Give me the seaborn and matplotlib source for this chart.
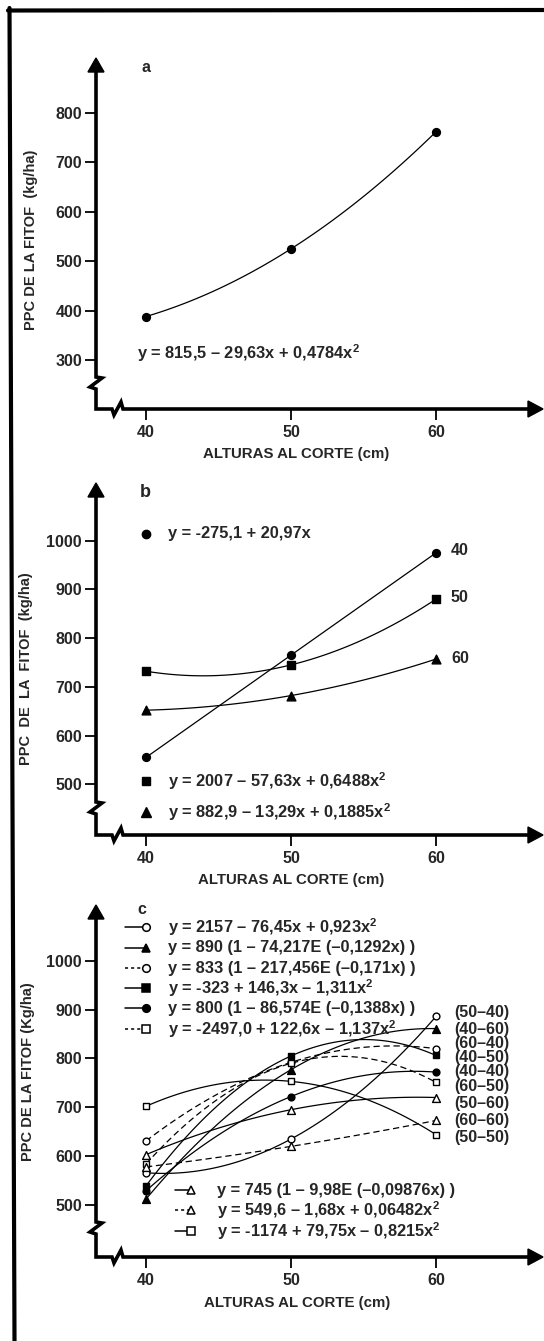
import matplotlib
matplotlib.use("Agg")
import matplotlib.pyplot as plt
from matplotlib.lines import Line2D
from matplotlib.patches import Polygon
import pandas as pd
import seaborn as sns

sns.set_style("white")
plt.rcParams["font.family"] = ["Liberation Sans", "DejaVu Sans"]
plt.rcParams["font.weight"] = "bold"
plt.rcParams["axes.labelweight"] = "bold"
plt.rcParams["font.size"] = 11
plt.rcParams["mathtext.fontset"] = "custom"
plt.rcParams["mathtext.bf"] = "Liberation Sans:bold"
plt.rcParams["mathtext.rm"] = "Liberation Sans:bold"

W, H = 544, 1341
SQ = r"$^\mathbf{2}$"

alturas = [40, 50, 60]

# --- a ---
ppc_a = [388, 525, 762]
ec_a = "y = 815,5 – 29,63x + 0,4784x" + SQ

# --- b --- (una curva por altura del primer corte)
cortes_b = ["40", "50", "60"]
ppc_b40 = [555, 765, 975]
ppc_b50 = [732, 745, 880]
ppc_b60 = [652, 682, 757]
orden_b = [1, 2, 2]
ec_b = ["y = -275,1 + 20,97x",
        "y = 2007 – 57,63x + 0,6488x" + SQ,
        "y = 882,9 – 13,29x + 0,1885x" + SQ]

# --- c --- (combinaciones de cortes)
series_c = ["(50–40)", "(40–60)", "(60–40)", "(40–50)", "(40–40)",
            "(60–50)", "(50–60)", "(60–60)", "(50–50)"]
ppc_c_50_40 = [566, 635, 886]
ppc_c_40_60 = [512, 777, 861]
ppc_c_60_40 = [631, 792, 820]
ppc_c_40_50 = [539, 805, 806]
ppc_c_40_40 = [529, 722, 772]
ppc_c_60_50 = [584, 790, 751]
ppc_c_50_60 = [603, 695, 720]
ppc_c_60_60 = [578, 620, 673]
ppc_c_50_50 = [702, 753, 644]
ec_c = ["y = 2157 – 76,45x + 0,923x" + SQ,
        "y = 890 (1 – 74,217E (–0,1292x) )",
        "y = 833 (1 – 217,456E (–0,171x) )",
        "y = -323 + 146,3x – 1,311x" + SQ,
        "y = 800 (1 – 86,574E (–0,1388x) )",
        "y = -2497,0 + 122,6x – 1,137x" + SQ,
        "y = 745 (1 – 9,98E (–0,09876x) )",
        "y = 549,6 – 1,68x + 0,06482x" + SQ,
        "y = -1174 + 79,75x – 0,8215x" + SQ]

df_c = pd.DataFrame({
    "altura": alturas * 9,
    "ppc": (ppc_c_50_40 + ppc_c_40_60 + ppc_c_60_40 + ppc_c_40_50 + ppc_c_40_40
            + ppc_c_60_50 + ppc_c_50_60 + ppc_c_60_60 + ppc_c_50_50),
    "serie": [s for s in series_c for _ in alturas],
})

fig = plt.figure(figsize=(W / 100, H / 100), dpi=100)

X0, XR = 96, 543          # eje vertical y punta de la flecha (px)
PX10 = 14.5               # px por cm


def fpx(x, y):
    return x / W, 1 - y / H


def linea(xs, ys, lw=2.6):
    fig.add_artist(Line2D([x / W for x in xs], [1 - y / H for y in ys],
                          color="black", lw=lw, solid_joinstyle="miter"))


def panel(top, bottom, tick_px, tick_val, s, ybrk):
    ax = fig.add_axes([X0 / W, 1 - bottom / H, (XR - X0) / W, (bottom - top) / H])
    ax.set_xlim(40 - (146 - X0) / PX10, 40 + (XR - 146) / PX10)
    ax.set_ylim(tick_val - (bottom - tick_px) / s, tick_val + (tick_px - top) / s)
    for sp in ax.spines.values():
        sp.set_visible(False)
    ax.set_xticks(alturas)
    ax.tick_params(axis="both", direction="out", length=8, width=1.3,
                   labelsize=11.5, color="black", left=True, bottom=True)
    ax.tick_params(axis="y", pad=2)
    ax.tick_params(axis="x", pad=3.5)
    # ejes con flechas y cortes
    linea([X0, X0, X0 + 6, X0 - 6, X0, X0, 112, 114, 121, 123, 530],
          [top + 12, ybrk - 6, ybrk - 5, ybrk + 4, ybrk + 6, bottom,
           bottom, bottom + 6, bottom - 7, bottom, bottom])
    fig.add_artist(Polygon([fpx(X0, top), fpx(X0 - 8, top + 14), fpx(X0 + 8, top + 14)],
                           closed=True, color="black"))
    fig.add_artist(Polygon([fpx(XR, bottom), fpx(XR - 15, bottom - 8), fpx(XR - 15, bottom + 8)],
                           closed=True, color="black"))
    return ax


def curva(ax, y, orden, dashed=False):
    sns.regplot(x=alturas, y=y, order=orden, ci=None, scatter=False, truncate=True,
                color="black", ax=ax,
                line_kws={"lw": 0.9, "ls": (0, (5, 3)) if dashed else "-"})


def puntos(ax, y, marker, filled, size):
    sns.scatterplot(x=alturas, y=y, marker=marker, s=size,
                    color="black" if filled else "white", edgecolor="black",
                    linewidth=1.0, zorder=4, ax=ax, legend=False, clip_on=False)


FS = 11.8  # ecuaciones

# ---------------- panel a ----------------
ax_a = panel(58, 409, 113, 800, 0.494, 383)
curva(ax_a, ppc_a, 2)
puntos(ax_a, ppc_a, "o", True, 32)
ax_a.set_yticks([300, 400, 500, 600, 700, 800])
ax_a.text(39.72, 893, "a", fontsize=11.5, va="center")
ax_a.text(39.38, 314, ec_a, fontsize=FS, va="center")
ax_a.set_ylabel("PPC DE LA FITOF  (kg/ha)", fontsize=10.5)
ax_a.yaxis.set_label_coords(-0.130, 0.481)
ax_a.set_xlabel("ALTURAS AL CORTE (cm)", fontsize=10.8)
ax_a.xaxis.set_label_coords(0.447, -0.108)

# ---------------- panel b ----------------
ax_b = panel(483, 835, 540.7, 1000, 0.487, 808)
mark_b = ["o", "s", "^"]
size_b = [32, 32, 40]
leyenda_b = [1013.8, 506, 443.6]
etiqueta_b = [979, 883, 759]
for y, orden, m, sz, ly, ey, c, eq in zip([ppc_b40, ppc_b50, ppc_b60], orden_b, mark_b,
                                          size_b, leyenda_b, etiqueta_b, cortes_b, ec_b):
    curva(ax_b, y, orden)
    puntos(ax_b, y, m, True, sz)
    ax_b.plot([40], [ly], marker=m, ms=6 if m != "^" else 6.5, color="black", clip_on=False)
    ax_b.text(41.52, ly, eq, fontsize=FS, va="center")
    ax_b.text(61.03, ey, c, fontsize=11.5, va="center")
ax_b.set_yticks([500, 600, 700, 800, 900, 1000])
ax_b.text(39.6, 1100, "b", fontsize=13, va="center")
ax_b.set_ylabel("PPC  DE  LA  FITOF  (kg/ha)", fontsize=10.5)
ax_b.yaxis.set_label_coords(-0.141, 0.474)
ax_b.set_xlabel("ALTURAS AL CORTE (cm)", fontsize=10.8)
ax_b.xaxis.set_label_coords(0.436, -0.108)

# ---------------- panel c ----------------
ax_c = panel(905, 1257, 960.7, 1000, 0.4886, 1228)
estilo_c = [("o", False, False), ("^", True, False), ("o", False, True),
            ("s", True, False), ("o", True, False), ("s", False, True),
            ("^", False, False), ("^", False, True), ("s", False, False)]
etiqueta_c = [895, 860, 830, 801, 773, 742, 707, 673, 638]
leyenda_c = [1069, 1026, 985, 944, 903, 860, 530, 489, 446]
for i, serie in enumerate(series_c):
    m, filled, dashed = estilo_c[i]
    y = df_c.loc[df_c["serie"] == serie, "ppc"].tolist()
    curva(ax_c, y, 2, dashed)
    sz = 32 if m == "^" else 24
    puntos(ax_c, y, m, filled, sz)
    ax_c.text(61.24, etiqueta_c[i], serie, fontsize=11.5, va="center")
    if i < 6:
        lx, mx, tx = 38.55, 40.0, 41.5
    else:
        lx, mx, tx = 42.0, 43.1, 44.9
    ly = leyenda_c[i]
    ax_c.plot([lx, mx], [ly, ly], color="black", lw=1.1,
              ls=(0, (2, 2)) if dashed else "-", clip_on=False)
    ax_c.plot([mx], [ly], marker=m, ms=6 if m == "^" else 5.5,
              color="black" if filled else "white", mec="black", mew=1.1, clip_on=False)
    ax_c.text(tx, ly, ec_c[i], fontsize=FS, va="center")
ax_c.set_yticks([500, 600, 700, 800, 900, 1000])
ax_c.text(39.4, 1104, "c", fontsize=11.5, va="center")
ax_c.set_ylabel("PPC DE LA FITOF (Kg/ha)", fontsize=10.5)
ax_c.yaxis.set_label_coords(-0.136, 0.528)
ax_c.set_xlabel("ALTURAS AL CORTE (cm)", fontsize=10.8)
ax_c.xaxis.set_label_coords(0.45, -0.112)

# marco de la pagina
linea([9.5, 14.5], [8, 1341], lw=3)
linea([8, 544], [10.5, 10], lw=3)

fig.savefig("out.png", dpi=100)
